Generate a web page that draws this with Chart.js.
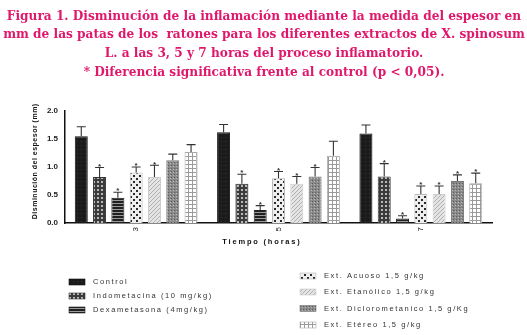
<!DOCTYPE html>
<html>
<head>
<meta charset="utf-8">
<script src="https://cdn.jsdelivr.net/npm/chart.js@4.4.0/dist/chart.umd.min.js"></script>
<style>
  body { margin: 0; background: #fff; }
  #wrap { position: relative; width: 527px; height: 335px; }
</style>
</head>
<body>
<div id="wrap"><canvas id="bar" width="527" height="335"></canvas></div>
<script>
const titleLines = [
  "Figura 1. Disminución de la inflamación mediante la medida del espesor en",
  "mm de las patas de los  ratones para los diferentes extractos de X. spinosum",
  "L. a las 3, 5 y 7 horas del proceso inflamatorio.",
  "* Diferencia significativa frente al control (p < 0,05)."
];
const categories = ["3", "5", "7"];
const seriesNames = [
  "Control",
  "Indometacina (10 mg/kg)",
  "Dexametasona (4mg/kg)",
  "Ext. Acuoso 1,5 g/kg",
  "Ext. Etanólico 1,5 g/kg",
  "Ext. Diclorometanico 1,5 g/Kg",
  "Ext. Etéreo 1,5 g/kg"
];
const control      = [1.55, 1.62, 1.60];
const indometacina = [0.82, 0.70, 0.83];
const dexametasona = [0.45, 0.23, 0.08];
const acuoso       = [0.90, 0.80, 0.52];
const etanolico    = [0.82, 0.70, 0.52];
const dicloro      = [1.12, 0.83, 0.75];
const etereo       = [1.27, 1.20, 0.71];
// top of error bar (mean + SEM)
const controlErr   = [1.72, 1.76, 1.75];
const indoErr      = [0.99, 0.87, 1.06];
const dexaErr      = [0.55, 0.31, 0.13];
const acuosoErr    = [1.00, 0.92, 0.66];
const etanolErr    = [1.03, 0.83, 0.66];
const diclorErr    = [1.23, 0.99, 0.86];
const etereoErr    = [1.40, 1.46, 0.89];
// significance (*)
const controlSig   = [false, false, false];
const indoSig      = [true, true, true];
const dexaSig      = [true, true, true];
const acuosoSig    = [true, true, true];
const etanolSig    = [true, true, true];
const diclorSig    = [false, true, true];
const etereoSig    = [false, false, true];
const yTicks = [0.0, 0.5, 1.0, 1.5, 2.0];

// fill patterns
function makePattern(size, draw) {
  const c = document.createElement("canvas");
  c.width = size; c.height = size;
  const ctx = c.getContext("2d");
  draw(ctx, size);
  return ctx.createPattern(c, "repeat");
}
const patterns = [
  makePattern(4, (g) => { g.fillStyle = "#1b1b1b"; g.fillRect(0, 0, 4, 4); g.fillStyle = "#333"; g.fillRect(1, 1, 1, 1); }),
  makePattern(4, (g) => { g.fillStyle = "#3a3a3a"; g.fillRect(0, 0, 4, 4); g.fillStyle = "#b8b8b8"; g.fillRect(1, 1, 2, 2); }),
  makePattern(3, (g) => { g.fillStyle = "#202020"; g.fillRect(0, 0, 3, 3); g.fillStyle = "#9a9a9a"; g.fillRect(0, 2, 3, 1); }),
  makePattern(6, (g) => { g.fillStyle = "#eeeeee"; g.fillRect(0, 0, 6, 6); g.fillStyle = "#2a2a2a"; g.fillRect(1, 1, 2, 2); g.fillRect(4, 4, 2, 2); }),
  makePattern(4, (g) => { g.fillStyle = "#e4e4e4"; g.fillRect(0, 0, 4, 4); g.fillStyle = "#b0b0b0"; for (let i = 0; i < 4; i++) g.fillRect(3 - i, i, 1, 1); }),
  makePattern(3, (g) => { g.fillStyle = "#8a8a8a"; g.fillRect(0, 0, 3, 3); g.fillStyle = "#5c5c5c"; g.fillRect(0, 0, 1, 1); g.fillStyle = "#b8b8b8"; g.fillRect(2, 1, 1, 1); }),
  makePattern(4, (g) => { g.fillStyle = "#ffffff"; g.fillRect(0, 0, 4, 4); g.fillStyle = "#9a9a9a"; g.fillRect(0, 0, 4, 1); g.fillRect(0, 0, 1, 4); })
];
const values = [control, indometacina, dexametasona, acuoso, etanolico, dicloro, etereo];
const errs = [controlErr, indoErr, dexaErr, acuosoErr, etanolErr, diclorErr, etereoErr];
const sigs = [controlSig, indoSig, dexaSig, acuosoSig, etanolSig, diclorSig, etereoSig];
const borders = ["#111", "#333", "#222", "#bbb", "#ccc", "#777", "#aaa"];

const datasets = seriesNames.map((name, i) => ({
  label: name,
  data: values[i],
  backgroundColor: patterns[i],
  borderColor: borders[i],
  borderWidth: 1,
  barPercentage: 0.71,
  categoryPercentage: 0.9,
  errTop: errs[i],
  sig: sigs[i]
}));

const FONT = "Arial, 'Liberation Sans', sans-serif";

function spaced(ctx, text, x, y, sp) {
  let cx = x;
  for (const ch of text) {
    ctx.fillText(ch, cx, y);
    cx += ctx.measureText(ch).width + sp;
  }
  return cx - x - sp;
}
function spacedWidth(ctx, text, sp) {
  let w = 0;
  for (const ch of text) w += ctx.measureText(ch).width + sp;
  return w - sp;
}

const extras = {
  id: "extras",
  afterDatasetsDraw(chart) {
    const ctx = chart.ctx;
    const y = chart.scales.y;
    ctx.save();
    chart.data.datasets.forEach((ds, di) => {
      const meta = chart.getDatasetMeta(di);
      meta.data.forEach((bar, k) => {
        const top = y.getPixelForValue(ds.errTop[k]);
        ctx.strokeStyle = "#333";
        ctx.lineWidth = 1.1;
        ctx.beginPath();
        ctx.moveTo(bar.x, bar.y);
        ctx.lineTo(bar.x, top);
        ctx.moveTo(bar.x - 4.5, top);
        ctx.lineTo(bar.x + 4.5, top);
        ctx.stroke();
        if (ds.sig[k]) {
          ctx.fillStyle = "#333";
          ctx.font = "bold 8px " + FONT;
          ctx.textAlign = "center";
          ctx.textBaseline = "middle";
          ctx.fillText("*", bar.x, top - 1);
        }
      });
    });
    ctx.restore();
  },
  afterDraw(chart) {
    const ctx = chart.ctx;
    ctx.save();
    // title
    ctx.fillStyle = "#e0186c";
    ctx.font = "bold 13.5px 'DejaVu Serif Condensed', 'Liberation Serif', serif";
    ctx.textAlign = "center";
    ctx.textBaseline = "middle";
    titleLines.forEach((t, i) => ctx.fillText(t, 264, 16 + i * 18.7));
    // axis titles
    ctx.fillStyle = "#111";
    ctx.font = "bold 7.5px " + FONT;
    ctx.textAlign = "left";
    const xt = "Tiempo (horas)";
    const w = spacedWidth(ctx, xt, 1.8);
    spaced(ctx, xt, 261 - w / 2, 242, 1.8);
    ctx.font = "bold 7px " + FONT;
    ctx.save();
    ctx.translate(35, 161.5);
    ctx.rotate(-Math.PI / 2);
    const yt = "Disminución del espesor (mm)";
    const w2 = spacedWidth(ctx, yt, 0.5);
    spaced(ctx, yt, -w2 / 2, 0, 0.5);
    ctx.restore();
    // legend
    const leftPos = [[69, 282], [69, 296], [69, 310]];
    const rightPos = [[300, 276], [300, 292], [300, 308.5], [300, 325]];
    const pos = leftPos.concat(rightPos);
    ctx.font = "7.5px " + FONT;
    ctx.textBaseline = "middle";
    seriesNames.forEach((name, i) => {
      const [lx, ly] = pos[i];
      ctx.fillStyle = patterns[i];
      ctx.fillRect(lx, ly - 3, 16, 6);
      ctx.strokeStyle = borders[i];
      ctx.lineWidth = 0.6;
      ctx.strokeRect(lx, ly - 3, 16, 6);
      ctx.fillStyle = "#333";
      spaced(ctx, name, lx + 24, ly, 1.6);
    });
    ctx.restore();
  }
};

new Chart(document.getElementById("bar"), {
  type: "bar",
  data: { labels: categories, datasets: datasets },
  options: {
    responsive: false,
    animation: false,
    layout: { padding: { left: 0, right: 35, top: 111, bottom: 87 } },
    plugins: { legend: { display: false }, tooltip: { enabled: false } },
    scales: {
      x: {
        grid: { display: false, drawTicks: true, tickLength: 3, color: "#111" },
        border: { color: "#111", width: 1.5 },
        ticks: { minRotation: 90, maxRotation: 90, color: "#222", font: { size: 8, family: FONT }, padding: 1 },
        afterFit: (s) => { s.height = 25; }
      },
      y: {
        min: 0, max: 2,
        grid: { display: false, drawTicks: true, tickLength: 4, color: "#111" },
        border: { color: "#111", width: 1.5 },
        afterBuildTicks: (s) => { s.ticks = yTicks.map(v => ({ value: v })); },
        ticks: {
          color: "#222",
          font: { size: 8, weight: "bold", family: FONT },
          padding: 3,
          callback: (v) => Number(v).toFixed(1)
        },
        afterFit: (s) => { s.width = 65; }
      }
    }
  },
  plugins: [extras]
});
</script>
</body>
</html>
